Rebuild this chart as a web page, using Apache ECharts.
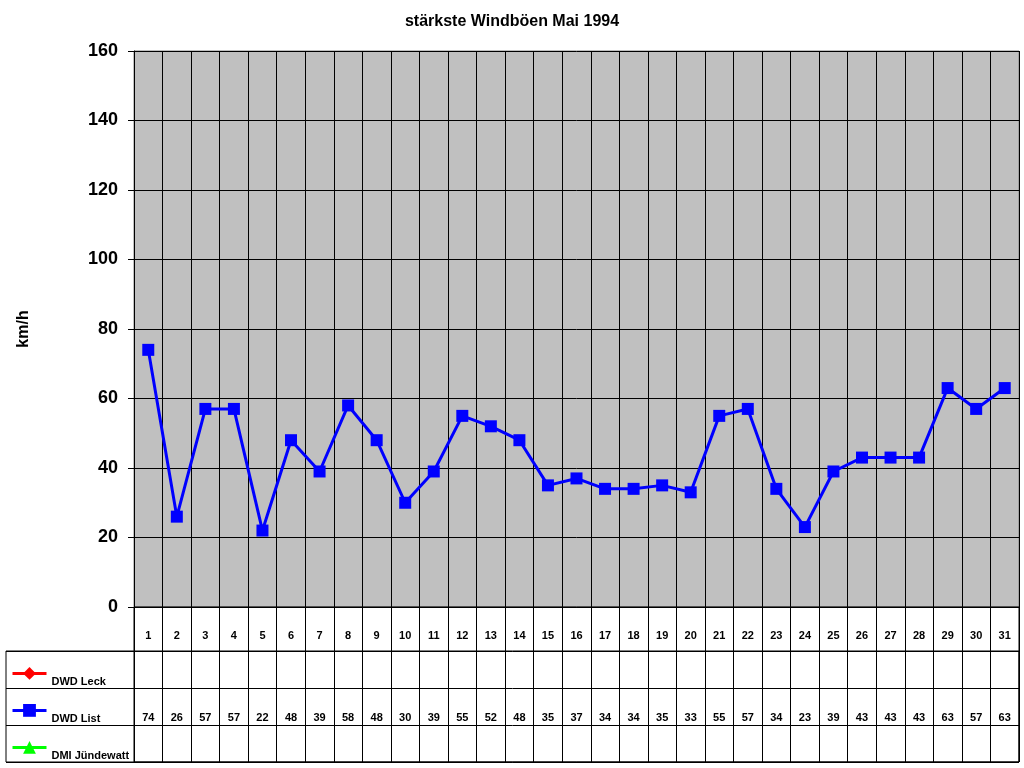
<!DOCTYPE html>
<html>
<head>
<meta charset="utf-8">
<script src="https://cdn.jsdelivr.net/npm/echarts@6/dist/echarts.min.js"></script>
<style>
  html, body { margin: 0; padding: 0; background: #fff; }
  #chart { width: 1024px; height: 768px; }
</style>
</head>
<body>
<div id="chart"></div>
<script>
var days = ['1','2','3','4','5','6','7','8','9','10','11','12','13','14','15','16',
            '17','18','19','20','21','22','23','24','25','26','27','28','29','30','31'];
var dwdList = [74, 26, 57, 57, 22, 48, 39, 58, 48, 30, 39, 55, 52, 48, 35, 37,
               34, 34, 35, 33, 55, 57, 34, 23, 39, 43, 43, 43, 63, 57, 63];
var dwdLeck = [];
var dmiJuendewatt = [];
var rowNames = ['DWD Leck', 'DWD List', 'DMI Jündewatt'];

var font = 'Liberation Sans, Arial, sans-serif';

/* values for the data table row */
var tableList = dwdList.map(function (v, i) {
    return [days[i], 'DWD List', v];
});

var myChart = echarts.init(document.getElementById('chart'));

function legendFor(name, top) {
    return {
        data: [name],
        left: 11,
        top: top,
        padding: 0,
        itemWidth: 34,
        itemHeight: 16,
        itemGap: 5,
        selectedMode: false,
        lineStyle: { width: 3 },
        formatter: '{t|{name}}',
        textStyle: {
            fontFamily: font, fontSize: 11, fontWeight: 'bold', color: '#000',
            rich: {
                t: { fontFamily: font, fontSize: 11, fontWeight: 'bold', color: '#000',
                     padding: [18, 0, 0, 0] }
            }
        }
    };
}

var option = {
    animation: false,
    backgroundColor: '#fff',
    title: {
        text: 'stärkste Windböen Mai 1994',
        left: 'center',
        top: 9,
        textStyle: { fontFamily: font, fontSize: 16, fontWeight: 'bold', color: '#000' }
    },
    legend: [
        legendFor('DWD Leck', 667),
        legendFor('DWD List', 704),
        legendFor('DMI Jündewatt', 741)
    ],
    grid: [
        // main plot
        { left: 134, top: 51, width: 885, height: 556, show: true,
          backgroundColor: '#C0C0C0', borderColor: '#808080', borderWidth: 1 },
        // table columns (day row + data rows)
        { left: 134, top: 607, width: 885, height: 155, show: true,
          borderColor: '#000', borderWidth: 1 },
        // data rows incl. legend column
        { left: 6, top: 651, width: 1013, height: 111, show: true,
          borderColor: '#000', borderWidth: 1 },
        // data rows aligned to day columns
        { left: 134, top: 651, width: 885, height: 111 }
    ],
    xAxis: [
        {
            gridIndex: 0, type: 'category', data: days, boundaryGap: true,
            axisLine: { lineStyle: { color: '#000', width: 1 } },
            axisTick: { show: false },
            splitLine: { show: true, interval: 0, lineStyle: { color: '#000', width: 1 } },
            axisLabel: { interval: 0, margin: 23, color: '#000',
                         fontFamily: font, fontSize: 11, fontWeight: 'bold' }
        },
        {
            gridIndex: 1, type: 'category', data: days, boundaryGap: true,
            axisLine: { show: false }, axisTick: { show: false }, axisLabel: { show: false },
            splitLine: { show: true, interval: 0, lineStyle: { color: '#000', width: 1 } }
        },
        {
            gridIndex: 2, type: 'value', show: false
        },
        {
            gridIndex: 3, type: 'category', data: days, boundaryGap: true, show: false
        }
    ],
    yAxis: [
        {
            gridIndex: 0, type: 'value', min: 0, max: 160, interval: 20,
            name: 'km/h', nameLocation: 'middle', nameGap: 102, nameRotate: 90,
            nameTextStyle: { fontFamily: font, fontSize: 16, fontWeight: 'bold', color: '#000' },
            axisLine: { show: true, lineStyle: { color: '#000', width: 1 } },
            axisTick: { show: true, length: 6, lineStyle: { color: '#000' } },
            splitLine: { show: true, lineStyle: { color: '#000', width: 1 } },
            axisLabel: { margin: 16, color: '#000', fontFamily: font, fontSize: 18, fontWeight: 'bold' }
        },
        {
            gridIndex: 1, type: 'value', show: false
        },
        {
            gridIndex: 2, type: 'category', data: rowNames, inverse: true,
            axisLine: { show: false }, axisTick: { show: false }, axisLabel: { show: false },
            splitLine: { show: true, interval: 0, lineStyle: { color: '#000', width: 1 } }
        },
        {
            gridIndex: 3, type: 'category', data: rowNames, inverse: true, show: false
        }
    ],
    series: [
        {
            name: 'DWD Leck', type: 'line', xAxisIndex: 0, yAxisIndex: 0,
            data: dwdLeck, symbol: 'diamond', symbolSize: 12,
            itemStyle: { color: '#FF0000' }, lineStyle: { color: '#FF0000', width: 3 }
        },
        {
            name: 'DWD List', type: 'line', xAxisIndex: 0, yAxisIndex: 0,
            data: dwdList, symbol: 'rect', symbolSize: 12, showAllSymbol: true,
            itemStyle: { color: '#0000FF' }, lineStyle: { color: '#0000FF', width: 3 }
        },
        {
            name: 'DMI Jündewatt', type: 'line', xAxisIndex: 0, yAxisIndex: 0,
            data: dmiJuendewatt, symbol: 'triangle', symbolSize: 12,
            itemStyle: { color: '#00FF00' }, lineStyle: { color: '#00FF00', width: 3 }
        },
        {
            name: 'table', type: 'scatter', xAxisIndex: 3, yAxisIndex: 3,
            data: tableList, symbolSize: 0, silent: true,
            itemStyle: { opacity: 1, color: '#000' },
            label: {
                show: true, position: 'bottom', distance: 6, opacity: 1,
                formatter: function (p) { return p.value[2]; },
                color: '#000', fontFamily: font, fontSize: 11, fontWeight: 'bold'
            }
        }
    ]
};

myChart.setOption(option);
</script>
</body>
</html>
